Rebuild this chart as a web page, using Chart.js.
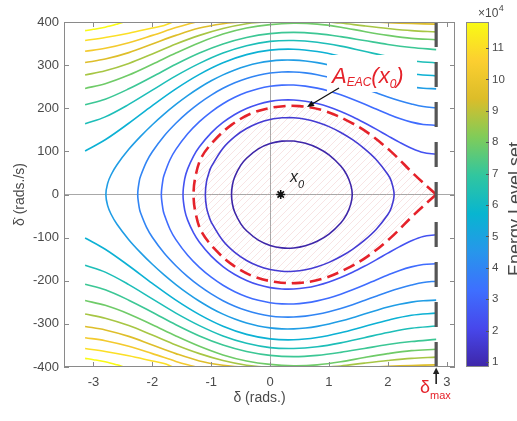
<!DOCTYPE html>
<html>
<head>
<meta charset="utf-8">
<script src="https://cdn.jsdelivr.net/npm/chart.js@4/dist/chart.umd.min.js"></script>
<style>
html,body{margin:0;padding:0;background:#ffffff;}
#wrap{position:relative;width:517px;height:421px;overflow:hidden;background:#fff;}
#wrap canvas{position:absolute;left:0;top:0;}
</style>
</head>
<body>
<div id="wrap">
<canvas id="main" width="517" height="421"></canvas>
<canvas id="cbar" width="517" height="421"></canvas>
</div>
<script>
// ---------------- data ----------------
const xTicks = [-3, -2, -1, 0, 1, 2, 3];
const yTicks = [-400, -300, -200, -100, 0, 100, 200, 300, 400];
const colorbarTicks = [1, 2, 3, 4, 5, 6, 7, 8, 9, 10, 11];
const colorbarRange = [0.84, 11.83];           // x 10^4
const levelEnergy = [0.84, 1.625, 2.41, 3.195, 3.98, 4.765, 5.55, 6.335, 7.12, 7.905, 8.69, 9.475, 10.26, 11.045, 11.83];
const deltaMax = 2.82;
const x0Point = [0.18, 0];

// contour upper halves: [delta, delta-dot]
const c0 = [[-0.655,0],[-0.64,22.0],[-0.6,41.2],[-0.5,67.4],[-0.4,84.1],[-0.2,105.7],[0,118.0],[0.2,123.8],[0.4,123.9],[0.6,118.8],[0.8,108.4],[1.0,91.8],[1.2,66.0],[1.3,46.1],[1.37,22.3],[1.395,0]];
const c1 = [[-1.10,0],[-1.08,29.7],[-1.04,50.0],[-1.0,63.9],[-0.8,107.5],[-0.6,134.4],[-0.4,153.0],[-0.2,165.9],[0,174.0],[0.2,178.0],[0.4,178.0],[0.6,174.5],[0.8,167.6],[1.0,157.4],[1.2,143.9],[1.4,127.1],[1.6,106.5],[1.8,81.2],[2.0,46.3],[2.06,30.3],[2.106,0]];
const c2 = [[-1.479,0],[-1.45,36.2],[-1.4,59.4],[-1.3,89.0],[-1.2,110.6],[-1.0,143.0],[-0.8,167.0],[-0.6,185.5],[-0.4,199.4],[-0.2,209.5],[0,216.0],[0.2,219.1],[0.4,219.2],[0.6,216.4],[0.8,210.8],[1.0,202.8],[1.2,192.5],[1.4,180.3],[1.6,166.4],[1.8,151.5],[2.0,136.0],[2.2,120.9],[2.4,107.5],[2.6,97.5],[2.82,93.5]];
const c3 = [[-1.847,0],[-1.82,34.0],[-1.8,45.3],[-1.7,80.5],[-1.6,104.6],[-1.4,141.0],[-1.2,169.1],[-1.0,191.8],[-0.8,210.4],[-0.6,225.3],[-0.4,236.9],[-0.2,245.4],[0,251.0],[0.2,253.7],[0.4,253.8],[0.6,251.3],[0.8,246.6],[1.0,239.8],[1.2,231.1],[1.4,221.0],[1.6,209.9],[1.8,198.2],[2.0,186.7],[2.2,176.0],[2.4,167.8],[2.6,162.5],[2.82,160.5]];
const c4 = [[-2.248,0],[-2.22,32.3],[-2.2,42.5],[-2.1,75.7],[-2.0,99.1],[-1.8,135.7],[-1.6,165.2],[-1.4,190.4],[-1.2,212.0],[-1.0,230.5],[-0.8,246.2],[-0.6,259.1],[-0.4,269.2],[-0.2,276.7],[0,281.7],[0.2,284.1],[0.4,284.2],[0.6,282.0],[0.8,277.8],[1.0,271.7],[1.2,264.1],[1.4,255.4],[1.6,245.8],[1.8,235.9],[2.0,226.3],[2.2,217.5],[2.4,210.0],[2.6,204.0],[2.82,201.0]];
const c5 = [[-2.789,0],[-2.76,25.3],[-2.7,45.8],[-2.6,69.0],[-2.4,104.7],[-2.2,134.7],[-2.0,161.8],[-1.8,186.4],[-1.6,208.9],[-1.4,229.3],[-1.2,247.6],[-1.0,263.6],[-0.8,277.4],[-0.6,288.9],[-0.4,298.1],[-0.2,304.9],[0,309.3],[0.2,311.6],[0.4,311.6],[0.6,309.6],[0.8,305.8],[1.0,300.3],[1.2,293.5],[1.4,285.6],[1.6,277.0],[1.8,268.8],[2.0,261.0],[2.2,254.5],[2.4,249.5],[2.6,246.5],[2.82,245.0]];
const c6 = [[-3.1416,101],[-2.8,126.9],[-2.4,165.2],[-2.0,206.2],[-1.6,245.0],[-1.2,278.6],[-0.8,305.5],[-0.4,324.3],[0,334.7],[0.4,336.8],[0.8,331.5],[1.2,320.5],[1.6,306.0],[2.0,291.5],[2.4,280.0],[2.82,275.0]];
const c7 = [[-3.1416,164],[-2.8,180],[-2.4,208.9],[-2.0,242],[-1.6,275],[-1.2,304],[-0.8,328],[-0.4,345],[0,355],[0.4,357],[0.8,353],[1.2,344],[1.6,332],[2.0,320],[2.4,310],[2.82,305]];
const c8 = [[-3.1416,208],[-2.8,221],[-2.4,245],[-2.0,273],[-1.6,302],[-1.2,328],[-0.8,349],[-0.4,364],[0,373],[0.4,376],[0.8,373],[1.2,366],[1.6,357],[2.0,348],[2.4,341],[2.82,336]];
const c9 = [[-3.1416,246],[-2.8,257],[-2.4,277],[-2.0,302],[-1.6,328],[-1.2,352],[-0.8,372],[-0.4,386],[0,394],[0.4,397],[0.8,395],[1.2,388],[1.6,378],[2.0,369],[2.4,362],[2.82,359]];
const c10a = [[-3.1416,277],[-2.8,287],[-2.4,304],[-2.0,326],[-1.6,349],[-1.2,369],[-0.8,385],[-0.4,396],[-0.1,400]];
const c10b = [[1.0,400],[1.2,397.5],[1.6,391],[2.0,385],[2.4,380],[2.82,377]];
const c11a = [[-3.1416,306],[-2.8,314],[-2.4,329],[-2.0,349],[-1.6,369],[-1.2,386],[-0.8,396],[-0.5,400]];
const c11b = [[1.7,400],[2.0,398.5],[2.4,396.5],[2.82,395]];
const c12 = [[-3.1416,332],[-2.8,339],[-2.4,352],[-2.0,369],[-1.6,387],[-1.4,395],[-1.25,400]];
const c13 = [[-3.1416,357],[-2.8,364],[-2.4,374],[-2.0,386],[-1.8,392],[-1.65,400]];
const c14 = [[-3.1416,380],[-3.0,383],[-2.8,388],[-2.6,395],[-2.48,400]];

// A_EAC(x0) boundary (red dashed), upper half
const redTop = [[-1.30,0],[-1.27,40],[-1.17,85],[-0.95,125],[-0.65,162],[-0.30,189],[0.1,203],[0.5,205],[0.9,195],[1.3,172],[1.65,144],[2.05,100],[2.45,46],[2.82,0]];

// ---------------- helpers ----------------
const parulaStops = ['#3e26a8','#4747eb','#3e6fff','#2796eb','#08b5d0','#31c69f','#80cc59','#dcbd29','#fccf30','#f9fb14'];
function hexRgb(h){return [parseInt(h.slice(1,3),16),parseInt(h.slice(3,5),16),parseInt(h.slice(5,7),16)];}
function parula(t){
  t = Math.max(0, Math.min(1, t));
  const n = parulaStops.length - 1;
  const i = Math.min(n - 1, Math.floor(t * n));
  const f = t * n - i;
  const a = hexRgb(parulaStops[i]), b = hexRgb(parulaStops[i + 1]);
  return 'rgb(' + a.map((v, k) => Math.round(v + (b[k] - v) * f)).join(',') + ')';
}
const P = a => a.map(p => ({x: p[0], y: p[1]}));
const M = a => a.map(p => ({x: p[0], y: -p[1]}));
function closedRing(top){
  let m = 0; top.forEach((p, i) => { if (p[1] > top[m][1]) m = i; });
  const n = top.length;
  return [...P(top.slice(m)), ...M(top.slice(1, n - 1)).reverse(), ...P(top.slice(0, m + 1))];
}
function openTurn(top){ return [...M(top.slice(1)).reverse(), ...P(top)]; }

const contourSets = [
  [c0,'closed',0],[c1,'closed',1],
  [c2,'turn',2],[c3,'turn',3],[c4,'turn',4],[c5,'turn',5],
  [c6,'half',6],[c7,'half',7],[c8,'half',8],[c9,'half',9],
  [c10a,'half',10],[c10b,'half',10],[c11a,'half',11],[c11b,'half',11],
  [c12,'half',12],[c13,'half',13],[c14,'half',14]
];
const TENSION = 0.35;
function lineDs(data, color, width){
  return {data, showLine: true, borderColor: color, borderWidth: width, pointRadius: 0, pointHoverRadius: 0, tension: TENSION, fill: false};
}
const contourDatasets = [];
contourSets.forEach(([top, kind, k]) => {
  const col = parula((levelEnergy[k] - colorbarRange[0]) / (colorbarRange[1] - colorbarRange[0]));
  if (kind === 'closed') contourDatasets.push(lineDs(closedRing(top), col, 1.6));
  else if (kind === 'turn') contourDatasets.push(lineDs(openTurn(top), col, 1.6));
  else { contourDatasets.push(lineDs(P(top), col, 1.6)); contourDatasets.push(lineDs(M(top), col, 1.6)); }
});

// hatch pattern for region
const mainCanvas = document.getElementById('main');
const pc = document.createElement('canvas'); pc.width = 7; pc.height = 7;
const pg = pc.getContext('2d');
pg.strokeStyle = 'rgba(232,170,170,0.32)'; pg.lineWidth = 1;
pg.beginPath(); pg.moveTo(0,7); pg.lineTo(7,0); pg.moveTo(-1,1); pg.lineTo(1,-1); pg.moveTo(6,8); pg.lineTo(8,6); pg.stroke();
const hatchPattern = mainCanvas.getContext('2d').createPattern(pc, 'repeat');

const redPath = openTurn(redTop);
const RED = '#e5222a';

const datasets = [
  {data: [{x: deltaMax, y: -400}, {x: deltaMax, y: 400}], showLine: true, borderColor: '#555555', borderWidth: 3.2, borderDash: [25, 15], borderCapStyle: 'butt', pointRadius: 0, pointHoverRadius: 0},
  {data: [{x: x0Point[0], y: x0Point[1]}], showLine: false, pointStyle: 'star', pointRadius: 4.5, borderColor: '#111111', pointBorderWidth: 1.6, backgroundColor: '#111'},
  {data: redPath, showLine: true, borderColor: RED, borderWidth: 2.6, borderDash: [12, 6], pointRadius: 0, pointHoverRadius: 0, tension: TENSION, fill: false},
  ...contourDatasets,
  {data: redPath, showLine: true, borderWidth: 0, borderColor: 'rgba(0,0,0,0)', backgroundColor: hatchPattern, fill: 'shape', pointRadius: 0, pointHoverRadius: 0, tension: TENSION}
];

const TICK = '#4a4a4a';
const FONT = 'Liberation Sans, Arial, sans-serif';

const decor = {
  id: 'decor',
  afterDatasetsDraw(chart){
    const ctx = chart.ctx, ca = chart.chartArea, xs = chart.scales.x, ys = chart.scales.y;
    ctx.save();
    // white box behind annotation text
    ctx.fillStyle = '#ffffff';
    ctx.fillRect(327, 55, 90, 37);
    // box + inner ticks
    ctx.strokeStyle = '#8a8a8a'; ctx.lineWidth = 1;
    ctx.strokeRect(ca.left + 0.5, ca.top + 0.5, ca.right - ca.left - 1, ca.bottom - ca.top - 1);
    ctx.beginPath();
    xTicks.forEach(v => { const px = Math.round(xs.getPixelForValue(v)) + 0.5; ctx.moveTo(px, ca.bottom); ctx.lineTo(px, ca.bottom - 5); ctx.moveTo(px, ca.top); ctx.lineTo(px, ca.top + 5); });
    yTicks.forEach(v => { const py = Math.round(ys.getPixelForValue(v)) + 0.5; ctx.moveTo(ca.left, py); ctx.lineTo(ca.left + 5, py); ctx.moveTo(ca.right, py); ctx.lineTo(ca.right - 5, py); });
    ctx.stroke();

    // A_EAC(x0) label
    ctx.fillStyle = RED; ctx.textBaseline = 'alphabetic'; ctx.textAlign = 'left';
    let x = 332;
    const part = (t, size, dy) => { ctx.font = 'italic ' + size + 'px ' + FONT; ctx.fillText(t, x, dy); x += ctx.measureText(t).width; };
    part('A', 22, 83); part('EAC', 12, 86); part('(x', 22, 83); part('0', 12, 88); part(')', 22, 83);

    // arrow to the boundary
    ctx.strokeStyle = '#111'; ctx.fillStyle = '#111'; ctx.lineWidth = 1.3;
    const ax0 = 339, ay0 = 88, ax1 = 307, ay1 = 107;
    const dx = ax1 - ax0, dy = ay1 - ay0, L = Math.hypot(dx, dy), ux = dx / L, uy = dy / L;
    ctx.beginPath(); ctx.moveTo(ax0, ay0); ctx.lineTo(ax1 - ux * 5, ay1 - uy * 5); ctx.stroke();
    ctx.beginPath(); ctx.moveTo(ax1, ay1); ctx.lineTo(ax1 - ux * 7 - uy * 3, ay1 - uy * 7 + ux * 3); ctx.lineTo(ax1 - ux * 7 + uy * 3, ay1 - uy * 7 - ux * 3); ctx.closePath(); ctx.fill();

    // x0 label
    ctx.fillStyle = '#222';
    x = 290;
    ctx.font = 'italic 16px ' + FONT; ctx.fillText('x', x, 182); x += ctx.measureText('x').width;
    ctx.font = 'italic 11px ' + FONT; ctx.fillText('0', x, 188);

    // delta_max marker below axis
    const pxm = xs.getPixelForValue(deltaMax);
    ctx.strokeStyle = '#111'; ctx.lineWidth = 1.5;
    ctx.beginPath(); ctx.moveTo(pxm, 384); ctx.lineTo(pxm, 372); ctx.stroke();
    ctx.beginPath(); ctx.moveTo(pxm, 367.5); ctx.lineTo(pxm - 3.2, 374); ctx.lineTo(pxm + 3.2, 374); ctx.closePath(); ctx.fill();
    ctx.fillStyle = RED;
    ctx.font = '18px ' + FONT; ctx.fillText('\u03B4', 420, 393);
    ctx.font = '11px ' + FONT; ctx.fillText('max', 430, 399);
    ctx.restore();
  }
};

new Chart(mainCanvas, {
  type: 'scatter',
  data: {datasets},
  options: {
    responsive: false, animation: false, devicePixelRatio: 1,
    layout: {padding: {left: 0, right: 62, top: 22, bottom: 0}},
    plugins: {legend: {display: false}, tooltip: {enabled: false}},
    scales: {
      x: {
        type: 'linear', min: -3.5, max: 3.14,
        afterFit: s => { s.height = 54; },
        afterBuildTicks: s => { s.ticks = xTicks.map(v => ({value: v})); },
        ticks: {padding: 8, color: TICK, font: {family: FONT, size: 13}, maxRotation: 0, autoSkip: false},
        grid: {drawTicks: false, lineWidth: 1, color: c => (c.tick && c.tick.value === 0) ? '#a8a8a8' : 'rgba(0,0,0,0)'},
        border: {display: false},
        title: {display: true, text: '\u03B4 (rads.)', color: TICK, font: {family: FONT, size: 14}, padding: {top: 0, bottom: 14}}
      },
      y: {
        type: 'linear', min: -400, max: 400,
        afterFit: s => { s.width = 64; },
        afterBuildTicks: s => { s.ticks = yTicks.map(v => ({value: v})); },
        ticks: {padding: 5, color: TICK, font: {family: FONT, size: 13}, autoSkip: false},
        grid: {drawTicks: false, lineWidth: 1, color: c => (c.tick && c.tick.value === 0) ? '#a8a8a8' : 'rgba(0,0,0,0)'},
        border: {display: false},
        title: {display: true, text: '\u03B4\u0307 (rads./s)', color: TICK, font: {family: FONT, size: 14}, padding: {top: 12, bottom: 0}}
      }
    }
  },
  plugins: [decor]
});

// ---------------- colorbar ----------------
const cbDecor = {
  id: 'cbDecor',
  afterDraw(chart){
    const ctx = chart.ctx, ca = chart.chartArea, ys = chart.scales.y;
    ctx.save();
    ctx.strokeStyle = '#8a8a8a'; ctx.lineWidth = 1;
    ctx.strokeRect(ca.left + 0.5, ca.top + 0.5, ca.right - ca.left - 1, ca.bottom - ca.top - 1);
    ctx.strokeStyle = '#555';
    ctx.beginPath();
    colorbarTicks.forEach(v => { const py = Math.round(ys.getPixelForValue(v)) + 0.5; ctx.moveTo(ca.right, py); ctx.lineTo(ca.right - 3, py); });
    ctx.stroke();
    ctx.fillStyle = TICK; ctx.textAlign = 'left'; ctx.textBaseline = 'alphabetic';
    ctx.font = '12px ' + FONT; ctx.fillText('\u00D710', 478, 17);
    const w = ctx.measureText('\u00D710').width;
    ctx.font = '9px ' + FONT; ctx.fillText('4', 478 + w + 0.5, 11);
    ctx.translate(521, 209); ctx.rotate(-Math.PI / 2);
    ctx.textAlign = 'center';
    ctx.font = '18px ' + FONT; ctx.fillText('Energy Level set', 0, 0);
    ctx.restore();
  }
};

new Chart(document.getElementById('cbar'), {
  type: 'bar',
  data: {labels: ['E'], datasets: [{
    data: [colorbarRange],
    borderWidth: 0, barPercentage: 1, categoryPercentage: 1,
    backgroundColor: c => {
      const ca = c.chart.chartArea; if (!ca) return '#888';
      const g = c.chart.ctx.createLinearGradient(0, ca.bottom, 0, ca.top);
      parulaStops.forEach((s, i) => g.addColorStop(i / (parulaStops.length - 1), s));
      return g;
    }
  }]},
  options: {
    responsive: false, animation: false, devicePixelRatio: 1,
    layout: {padding: {left: 466, right: 0, top: 22, bottom: 54}},
    plugins: {legend: {display: false}, tooltip: {enabled: false}},
    scales: {
      x: {display: false},
      y: {
        position: 'right', min: colorbarRange[0], max: colorbarRange[1],
        afterFit: s => { s.width = 28; },
        afterBuildTicks: s => { s.ticks = colorbarTicks.map(v => ({value: v})); },
        ticks: {padding: 3, color: TICK, font: {family: FONT, size: 11.5}, autoSkip: false},
        grid: {display: false, drawTicks: false},
        border: {display: false}
      }
    }
  },
  plugins: [cbDecor]
});
</script>
</body>
</html>
